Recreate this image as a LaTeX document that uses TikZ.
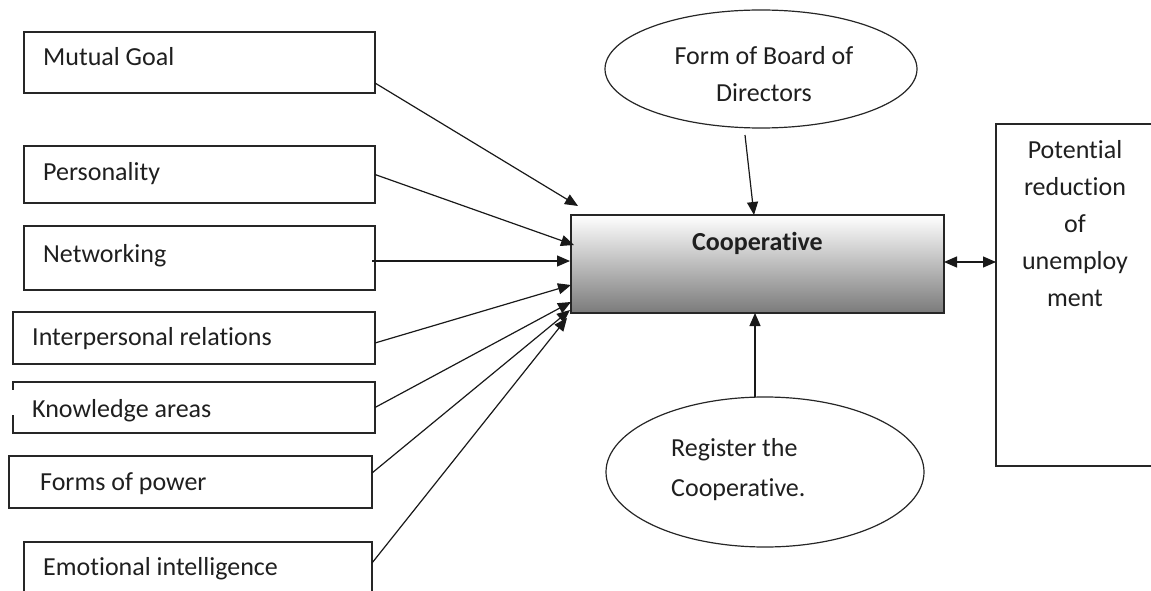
\documentclass[tikz,border=0pt]{standalone}
\usepackage{fontspec}
\setmainfont{Carlito}[Ligatures=NoCommon]
\usetikzlibrary{shapes.geometric,arrows.meta,calc}
\begin{document}
\begin{tikzpicture}[x=1pt,y=-1pt,
  every node/.style={font=\fontsize{26}{37}\selectfont, text=black!88},
  lbox/.style={draw=black!85, line width=1.2pt, inner sep=0pt, outer sep=0pt},
  oval/.style={ellipse, draw=black!85, line width=1.2pt, inner sep=0pt, outer sep=0pt},
  lbl/.style={anchor=base west, inner sep=0pt},
  arr/.style={draw=black!90, line width=1.2pt, -{Triangle[length=13pt,width=11pt]}},
  darr/.style={draw=black!90, line width=1.2pt, {Triangle[length=13pt,width=11pt]}-{Triangle[length=13pt,width=11pt]}}]
\useasboundingbox (0,0) rectangle (1151,591);
\clip (0,0) rectangle (1151,591);

% left boxes
\node[lbox, minimum width=351pt, minimum height=61pt] (mg) at (199.5,62.5) {};
\node[lbox, minimum width=351pt, minimum height=57pt] (pe) at (199.5,174.5) {};
\node[lbox, minimum width=351pt, minimum height=64pt] (nw) at (199.5,258) {};
\node[lbox, minimum width=362pt, minimum height=52pt] (ip) at (194,338) {};
\node[lbox, draw=none, minimum width=362pt, minimum height=51pt] (ka) at (194,407.5) {};
\draw[black!85, line width=1.2pt] ($(ka.south west)+(0,-18)$) -- (ka.south west) -- (ka.south east) -- (ka.north east) -- (ka.north west) -- ++(0,8);
\node[lbox, minimum width=363pt, minimum height=52pt] (fp) at (190.5,482) {};
\node[lbox, minimum width=348pt, minimum height=78pt] (ei) at (198,581) {};

\node[lbl] (mgt) at (43,66) {Mutual Goal};
\node[lbl] (pet) at (43,180) {Personality};
\node[lbl] (nwt) at (43,262) {Networking};
\node[lbl] (ipt) at (32,345) {Interpersonal relations};
\node[lbl] (kat) at (32,417) {Knowledge areas};
\node[lbl] (fpt) at (40,490) {Forms of power};
\node[lbl] (eit) at (43,575) {Emotional intelligence};

% central box
\node[lbox, top color=white, bottom color=black!52, minimum width=373pt, minimum height=98pt] (coop) at (757.5,264) {};
\node[anchor=base, inner sep=0pt] (coopt) at (757.5,250) {\bfseries Cooperative};

% ellipses
\node[oval, minimum width=312pt, minimum height=118pt] (fb) at (761,69) {};
\node[align=center, inner sep=0pt] (fbt) at (764,74) {Form of Board of\\Directors};
\node[oval, minimum width=318pt, minimum height=150pt] (rc) at (765,472) {};
\node[align=left, inner sep=0pt, anchor=north west] (rct) at (671,438) {Register the\\[3pt]Cooperative.};

% right box
\node[lbox, minimum width=174pt, minimum height=342pt] (pr) at (1083,295) {};
\node[align=center, inner sep=0pt, anchor=north] (prt) at (1075,140) {Potential\\reduction\\of\\unemploy\\ment};

% connectors
\draw[arr] ($(mg.east)+(0,20.5)$) -- ($(coop.west)+(7,-58)$);
\draw[arr] (pe.east) -- ($(coop.west)+(3,-19)$);
\draw[arr] ($(nw.east)+(-3,3)$) -- ($(coop.west)+(-1,-3)$);
\draw[arr] ($(ip.east)+(0,5)$) -- ($(coop.west)+(0,21)$);
\draw[arr] (ka.east) -- ($(coop.west)+(0,38)$);
\draw[arr] ($(fp.east)+(0,-9)$) -- ($(coop.west)+(-1,46)$);
\draw[arr] ($(ei.east)+(0,-18)$) -- ($(coop.west)+(-4,54)$);
\draw[arr] ($(fb.south)+(-16,7)$) -- ($(coop.north)+(-3.5,0)$);
\draw[arr] ($(rc.north)+(-10,0)$) -- ($(coop.south)+(-2.5,0)$);
\draw[darr] ($(coop.east)+(0,-2)$) -- ($(pr.west)+(0,-33)$);
\end{tikzpicture}
\end{document}
